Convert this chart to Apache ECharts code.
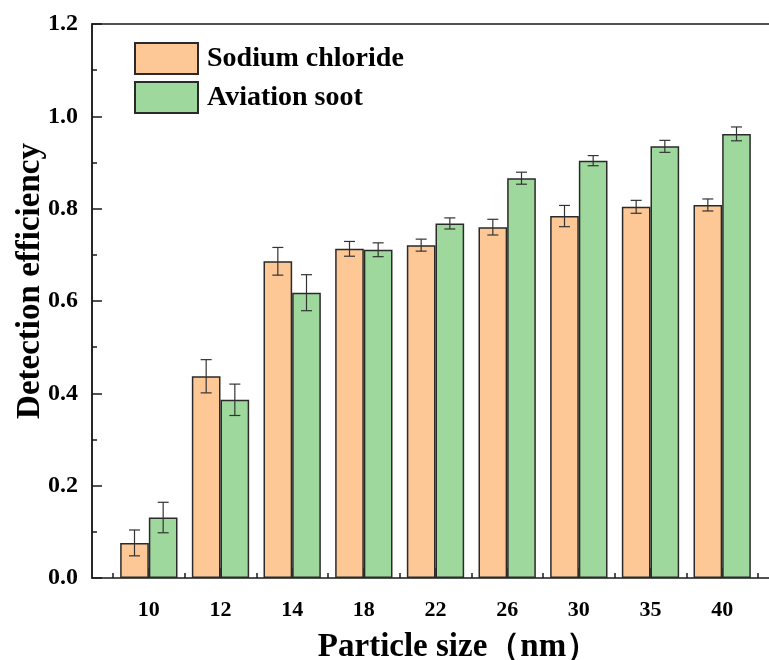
<!DOCTYPE html>
<html>
<head>
<meta charset="utf-8">
<script src="https://cdn.jsdelivr.net/npm/echarts@6/dist/echarts.min.js"></script>
<style>
  html, body { margin: 0; padding: 0; background: #fff; }
  #chart { width: 769px; height: 660px; }
</style>
</head>
<body>
<div id="chart"></div>
<script>
// Particle sizes (nm) on the x axis
const sizes = ['10', '12', '14', '18', '22', '26', '30', '35', '40'];

// Detection efficiency, mean values
const sodiumChloride = [0.076, 0.437, 0.686, 0.713, 0.721, 0.760, 0.784, 0.804, 0.808];
const aviationSoot   = [0.131, 0.386, 0.618, 0.711, 0.768, 0.866, 0.904, 0.935, 0.962];

// Half-width of the error bars
const sodiumErr = [0.028, 0.036, 0.030, 0.016, 0.013, 0.017, 0.023, 0.014, 0.013];
const sootErr   = [0.033, 0.034, 0.039, 0.015, 0.012, 0.013, 0.011, 0.013, 0.015];

// Y tick range
const yMin = 0, yMax = 1.2, yStep = 0.2;

const FONT = '"Liberation Serif", "Times New Roman", serif';
const INK = '#1a1a1a';
const CAT_GAP = 0.2;

function errData(vals, errs) {
  return vals.map((v, i) => [i, v - errs[i], v + errs[i]]);
}

function errRenderer(side) {
  return function (params, api) {
    const i = api.value(0);
    const lo = api.coord([i, api.value(1)]);
    const hi = api.coord([i, api.value(2)]);
    const band = api.size([1, 0])[0];
    const barW = band * (1 - CAT_GAP) / 2;
    const x = lo[0] + side * barW / 2;
    const cap = 5.5;
    const style = { stroke: '#333', lineWidth: 1.2 };
    return {
      type: 'group',
      children: [
        { type: 'line', shape: { x1: x, y1: hi[1], x2: x, y2: lo[1] }, style },
        { type: 'line', shape: { x1: x - cap, y1: hi[1], x2: x + cap, y2: hi[1] }, style },
        { type: 'line', shape: { x1: x - cap, y1: lo[1], x2: x + cap, y2: lo[1] }, style }
      ]
    };
  };
}

const chart = echarts.init(document.getElementById('chart'), null, { renderer: 'canvas' });

chart.setOption({
  animation: false,
  backgroundColor: '#fff',
  textStyle: { fontFamily: FONT },
  legend: {
    data: ['Sodium chloride', 'Aviation soot'],
    orient: 'vertical',
    left: 134,
    top: 42,
    padding: 0,
    icon: 'rect',
    itemWidth: 63,
    itemHeight: 31,
    itemGap: 6,
    textStyle: { fontFamily: FONT, fontWeight: 'bold', fontSize: 28, color: '#000', padding: [0, 0, 0, 4] }
  },
  grid: [
    // outer frame carrying the value axis
    { left: 92, right: -4, top: 24, bottom: 82, show: true, borderColor: INK, borderWidth: 1.5,
      backgroundColor: 'transparent', outerBoundsMode: 'none', containLabel: false },
    // bar area
    { left: 113, right: 11, top: 24, bottom: 82, outerBoundsMode: 'none', containLabel: false }
  ],
  xAxis: [
    { gridIndex: 0, type: 'value', show: false, min: 0, max: 1 },
    {
      gridIndex: 1, type: 'category', data: sizes, position: 'bottom',
      axisLine: { show: false },
      axisTick: { show: true, inside: true, alignWithLabel: true, length: 10, lineStyle: { color: INK, width: 1.5 } },
      axisLabel: { fontFamily: FONT, fontWeight: 'bold', fontSize: 22, color: '#000', margin: 21 },
      name: 'Particle size（nm）',
      nameLocation: 'middle',
      nameGap: 53,
      nameMoveOverlap: false,
      nameTextStyle: { fontFamily: FONT, fontWeight: 'bold', fontSize: 33, color: '#000', padding: [0, 0, 0, 46] }
    },
    {
      gridIndex: 1, type: 'category', data: sizes, position: 'bottom',
      axisLine: { show: false },
      axisTick: { show: true, inside: true, length: 5, lineStyle: { color: INK, width: 1.5 } },
      axisLabel: { show: false }
    }
  ],
  yAxis: [
    {
      gridIndex: 0, type: 'value', min: yMin, max: yMax, interval: yStep,
      axisLine: { show: true, lineStyle: { color: INK, width: 1.5 } },
      axisTick: { show: true, inside: true, length: 10, lineStyle: { color: INK, width: 1.5 } },
      minorTick: { show: true, splitNumber: 2, length: 5, lineStyle: { color: INK, width: 1.5 } },
      splitLine: { show: false },
      axisLabel: { fontFamily: FONT, fontWeight: 'bold', fontSize: 24, color: '#000', margin: 14, formatter: v => v.toFixed(1) },
      name: 'Detection efficiency',
      nameLocation: 'middle',
      nameGap: 45,
      nameMoveOverlap: false,
      nameTextStyle: { fontFamily: FONT, fontWeight: 'bold', fontSize: 33, color: '#000', padding: [0, 0, 0, 40] }
    },
    { gridIndex: 1, type: 'value', min: yMin, max: yMax, show: false }
  ],
  series: [
    {
      name: 'Sodium chloride', type: 'bar', xAxisIndex: 1, yAxisIndex: 1,
      data: sodiumChloride, barGap: '0%', barCategoryGap: (CAT_GAP * 100) + '%',
      itemStyle: { color: '#FDC896', borderColor: '#2a2a2a', borderWidth: 1.5 }
    },
    {
      name: 'Aviation soot', type: 'bar', xAxisIndex: 1, yAxisIndex: 1,
      data: aviationSoot, barGap: '0%', barCategoryGap: (CAT_GAP * 100) + '%',
      itemStyle: { color: '#9ED89C', borderColor: '#2a2a2a', borderWidth: 1.5 }
    },
    {
      type: 'custom', xAxisIndex: 1, yAxisIndex: 1, z: 5,
      data: errData(sodiumChloride, sodiumErr),
      encode: { x: 0, y: [1, 2] },
      renderItem: errRenderer(-1)
    },
    {
      type: 'custom', xAxisIndex: 1, yAxisIndex: 1, z: 5,
      data: errData(aviationSoot, sootErr),
      encode: { x: 0, y: [1, 2] },
      renderItem: errRenderer(1)
    }
  ]
});
</script>
</body>
</html>
